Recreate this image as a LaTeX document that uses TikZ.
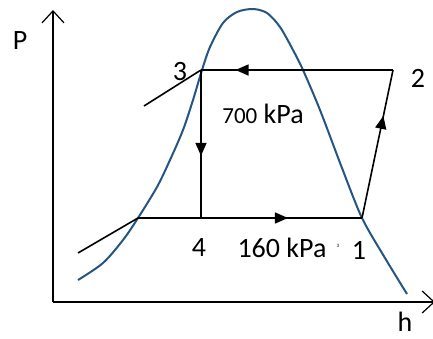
\documentclass[tikz,border=0pt]{standalone}
\usepackage{fontspec}
\setmainfont{Carlito}
\usetikzlibrary{arrows.meta,decorations.markings}
\definecolor{dome}{RGB}{37,85,130}
\tikzset{
  cyc/.style={line width=1.6pt},
  axisline/.style={line width=1.4pt,-{Straight Barb[length=12pt,width=22pt,line width=1.2pt]}},
  midarrow/.style={postaction={decorate},decoration={markings,mark=at position #1 with {\arrow{Triangle[length=13pt,width=11pt]}}}},
  lbl/.style={inner sep=0pt,font=\fontsize{28}{32}\selectfont}
}
\begin{document}
\begin{tikzpicture}[x=1pt,y=-1pt]
\useasboundingbox (0,0) rectangle (433,338);
% axes
\coordinate (O) at (53,302);
\coordinate (Ptip) at (53,10);
\coordinate (Htip) at (435,302);
\draw[axisline] (O) -- (Ptip);
\draw[axisline] (O) -- (Htip);
\node[lbl] (P) at (20,41) {P};
\node[lbl] (h) at (405,322) {h};
% dome
\draw[dome,line width=2pt] plot[smooth,tension=0.5] coordinates {
 (78,280) (103,263) (123,240) (138,218) (157,187) (170,160) (183,130) (193,100) (202,70) (210,47) (223,23) (237,12) (253,9) (267,13) (280,27) (293,50) (303,70) (320,110) (342,168) (362,218) (385,258) (407,294)};
% cycle points
\coordinate (p1) at (362,218);
\coordinate (p2) at (393,70);
\coordinate (p3) at (201,70);
\coordinate (p4) at (201,218);
\coordinate (pf) at (138,218);
\coordinate (a3) at (144,106);
\coordinate (af) at (78,253);
\draw[cyc,midarrow=0.82] (p2) -- (p3);
\draw[cyc,midarrow=0.58] (p3) -- (p4);
\draw[cyc] (pf) -- (p4);
\draw[cyc,midarrow=0.54] (p4) -- (p1);
\draw[cyc,midarrow=0.69] (p1) -- (p2);
\draw[cyc] (a3) -- (p3);
\draw[cyc] (af) -- (pf);
% labels
\node[lbl] (l3) at (180,72) {3};
\node[lbl] (l2) at (418,78) {2};
\node[lbl] (l700) at (263,114) {{\fontsize{23}{26}\selectfont 700} kPa};
\node[lbl] (l4) at (199,248) {4};
\node[lbl] (l160) at (282,248) {160 kPa};
\node[inner sep=0pt,font=\fontsize{5}{6}\selectfont] (ls) at (338,246) {3};
\node[lbl] (l1) at (359,250) {1};
\end{tikzpicture}
\end{document}
